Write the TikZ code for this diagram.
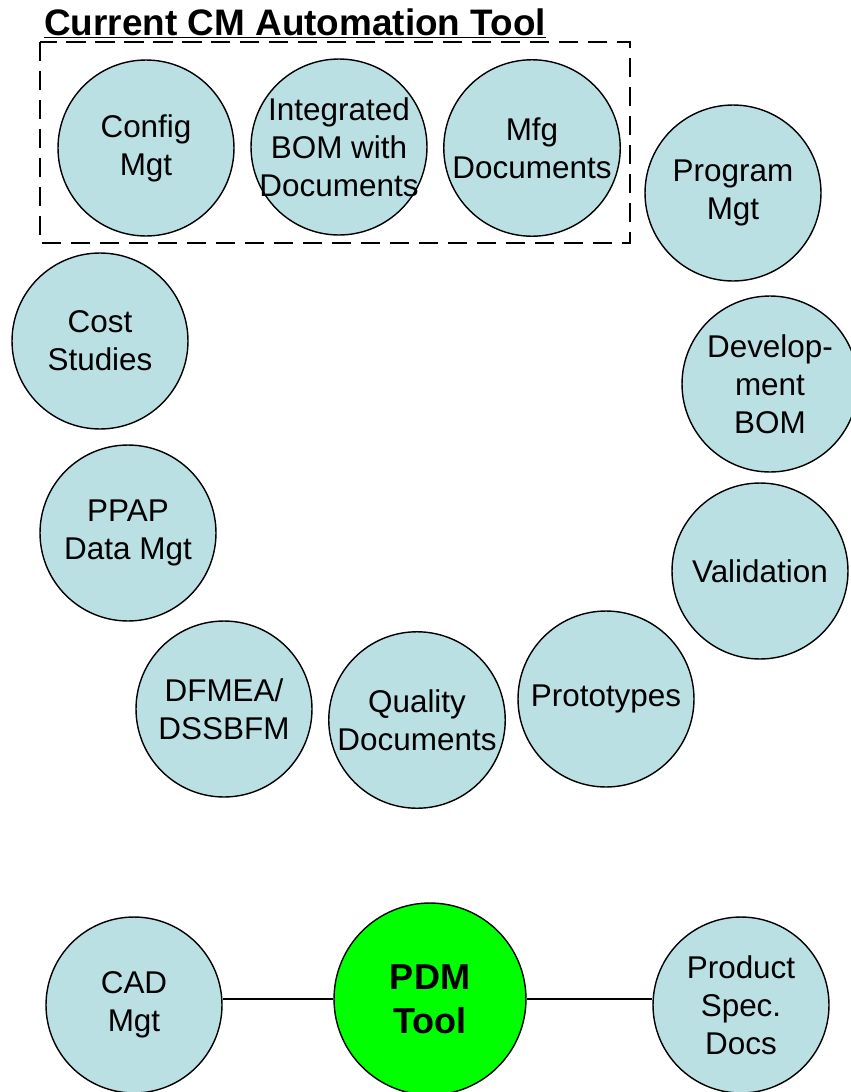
\documentclass[tikz,border=0pt]{standalone}
\usepackage{fontspec}
\setmainfont{Liberation Sans}
\usetikzlibrary{arrows}
\definecolor{bubfill}{HTML}{BBE0E3}
\tikzset{bub/.append style={minimum size=3.52cm, draw, circle, inner sep=0.05cm, fill=bubfill, line width=0.8pt, align=center, font=\fontsize{17.9}{21.6}\selectfont}}
\tikzset{hub/.append style={minimum size=3.84cm, fill=green, font=\bfseries\fontsize{20.5}{25}\selectfont}}
\tikzset{grp/.append style={dashed, dash pattern=on 11pt off 5.5pt, line width=1.3pt}}

\begin{document}
\begin{tikzpicture}[x=0.02cm,y=-0.02cm]
                \useasboundingbox (0,0) rectangle (850,1092);
                % \SetUpGroup
                \node[anchor=base west, inner sep=0pt, font=\bfseries\fontsize{21}{25}\selectfont] (title) at (44,35) {\underline{Current CM Automation Tool}};
                \draw[grp] (40,42) rectangle (630,243);
                % \SetUpVertex
                \node[bub] (cfg) at (146,148) {Config\\Mgt};
                \node[bub,inner sep=-0.35cm] (ibom) at (339,147) {Integrated\\BOM with\\Documents};
                \node[bub] (mfg) at (532,148) {Mfg\\Documents};
                \node[bub] (prog) at (733,193) {Program\\Mgt};
                \node[bub] (cost) at (100,341) {Cost\\Studies};
                \node[bub,inner sep=-0.2cm] (dev) at (770,384) {Develop-\\ment\\BOM};
                \node[bub] (ppap) at (128,533) {PPAP\\Data Mgt};
                \node[bub] (valid) at (760,571) {Validation};
                \node[bub] (dfmea) at (224,709) {DFMEA/\\DSSBFM};
                \node[bub] (qual) at (417,720) {Quality\\Documents};
                \node[bub] (proto) at (606,699) {Prototypes};
                \node[bub] (cad) at (134,1005) {CAD\\Mgt};
                \node[bub,hub] (pdmt) at (430,999) {PDM\\Tool};
                \node[bub,inner sep=-0.2cm] (spec) at (741,1005) {Product\\Spec.\\Docs};
                \path (pdmt.west) edge[line width=0.8pt] (pdmt.west -| cad.east);
                \path (pdmt.east) edge[line width=0.8pt] (pdmt.east -| spec.west);
            \end{tikzpicture}
\end{document}
